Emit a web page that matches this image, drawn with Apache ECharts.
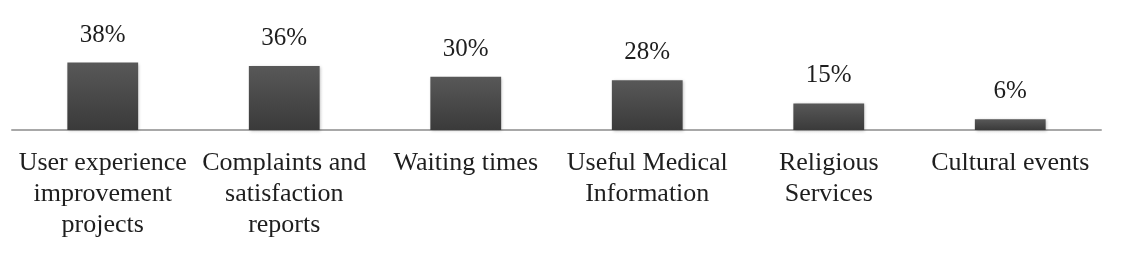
<!DOCTYPE html>
<html>
<head>
<meta charset="utf-8">
<script src="https://cdn.jsdelivr.net/npm/echarts@6/dist/echarts.min.js"></script>
<style>
html,body{margin:0;padding:0;background:#fff;}
#chart{width:1125px;height:269px;}
</style>
</head>
<body>
<div id="chart"></div>
<script>
const categories = [
  "User experience\nimprovement\nprojects",
  "Complaints and\nsatisfaction\nreports",
  "Waiting times",
  "Useful Medical\nInformation",
  "Religious\nServices",
  "Cultural events"
];
const values = [38, 36, 30, 28, 15, 6];

const chart = echarts.init(document.getElementById('chart'), null, {renderer: 'canvas'});
chart.setOption({
  animation: false,
  backgroundColor: '#ffffff',
  grid: {left: 12, right: 24, top: 59, bottom: 139, containLabel: false},
  xAxis: {
    type: 'category',
    data: categories,
    axisLine: {show: true, lineStyle: {color: '#a8a8a8', width: 2}},
    axisTick: {show: false},
    axisLabel: {
      interval: 0,
      margin: 18,
      color: '#1e1e1e',
      fontFamily: '"Liberation Serif", "Times New Roman", serif',
      fontSize: 26,
      lineHeight: 31
    }
  },
  yAxis: {
    type: 'value',
    min: 0,
    max: 40,
    show: false,
    splitLine: {show: false}
  },
  series: [{
    type: 'bar',
    data: values,
    barWidth: '39%',
    itemStyle: {
      color: {
        type: 'linear', x: 0, y: 0, x2: 0, y2: 1,
        colorStops: [{offset: 0, color: '#585858'}, {offset: 1, color: '#3a3a3a'}]
      },
      shadowBlur: 3,
      shadowColor: 'rgba(0,0,0,0.25)',
      shadowOffsetX: 1,
      shadowOffsetY: 1
    },
    label: {
      show: true,
      position: 'top',
      distance: 15,
      formatter: '{c}%',
      color: '#1e1e1e',
      fontFamily: '"Liberation Serif", "Times New Roman", serif',
      fontSize: 25
    }
  }]
});
</script>
</body>
</html>
